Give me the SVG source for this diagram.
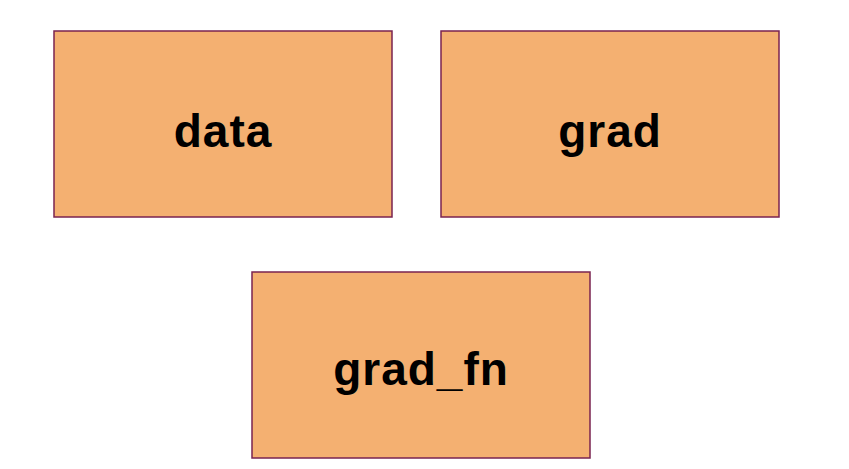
<svg xmlns="http://www.w3.org/2000/svg" width="849" height="469" viewBox="0 0 849 469">
<style>
.box{fill:#F4B071;stroke:#7A2350;stroke-width:1.5}
.lbl{font-family:"Liberation Sans",Arial,sans-serif;font-weight:bold;font-size:46px;letter-spacing:1px;fill:#000;text-anchor:middle}
</style>
<rect width="849" height="469" fill="#fff"/>
<g id="data"><rect class="box" x="54" y="31" width="338" height="186"/><text class="lbl" x="223" y="147">data</text></g>
<g id="grad"><rect class="box" x="441" y="31" width="338" height="186"/><text class="lbl" x="610" y="147">grad</text></g>
<g id="grad_fn"><rect class="box" x="252" y="272" width="338" height="186"/><text class="lbl" x="421" y="385">grad_fn</text></g>
<g id="connectors"></g>
</svg>
